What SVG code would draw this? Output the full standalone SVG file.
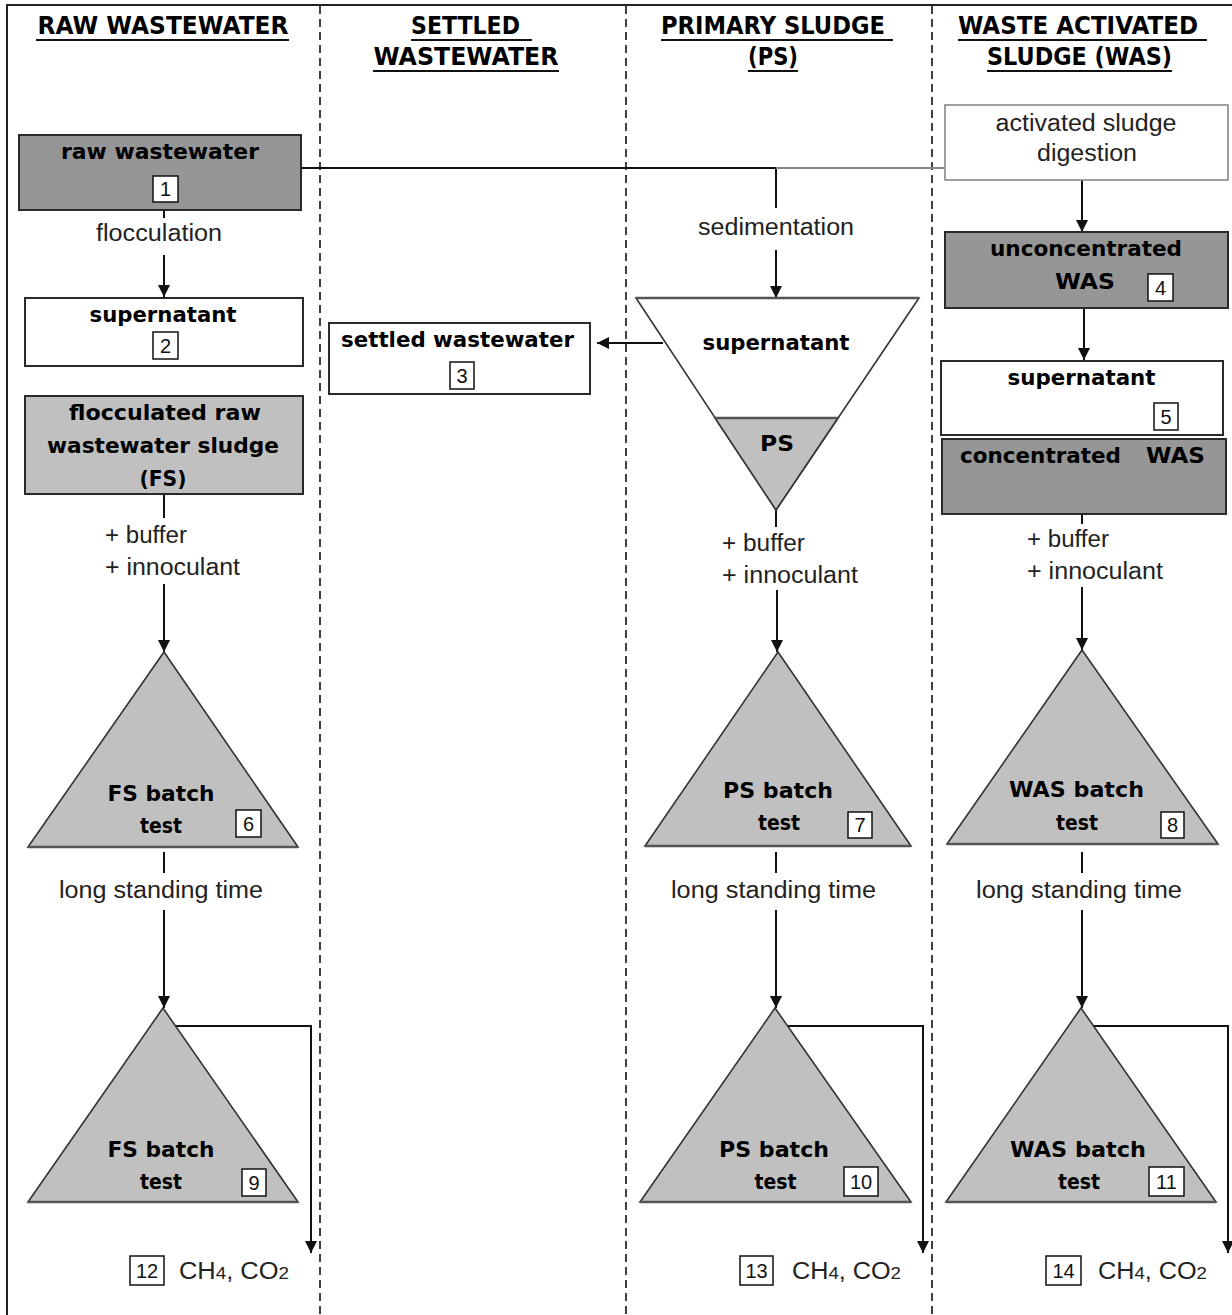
<svg xmlns="http://www.w3.org/2000/svg" width="1232" height="1315" viewBox="0 0 1232 1315">
<style>
.frame{stroke:#222;stroke-width:2;fill:none}
.dash{stroke:#111;stroke-width:1.6;stroke-dasharray:8 5;fill:none}
.ul{stroke:#111;stroke-width:2}
.box{stroke:#2a2a2a;stroke-width:2}
.dark{fill:#969696}
.light{fill:#c0c0c0}
.white{fill:#fff}
.tri{stroke:#333;stroke-width:1.6}
.base{stroke:#555;stroke-width:2.5}
.nb{fill:#fff;stroke:#111;stroke-width:1.5}
.h{font-family:"DejaVu Sans","Liberation Sans",sans-serif;font-weight:bold;font-size:24px;fill:#000}
.b{font-family:"DejaVu Sans","Liberation Sans",sans-serif;font-weight:bold;font-size:22px;fill:#000}
.r{font-family:"Liberation Sans",Arial,sans-serif;font-size:23px;fill:#222}
.n{font-family:"Liberation Sans",Arial,sans-serif;font-size:20px;fill:#111}
.conn{stroke:#111;stroke-width:2;fill:none}
.grey{stroke:#888;stroke-width:2;fill:none}
</style>
<defs>
<marker id="ah" viewBox="0 0 10 10" refX="10" refY="5" markerWidth="13" markerHeight="12" markerUnits="userSpaceOnUse" orient="auto">
<path d="M0,0 L10,5 L0,10 z" fill="#111"/>
</marker>
</defs>
<rect width="1232" height="1315" fill="#fff"/>

<g id="frame">
<path class="frame" d="M7,1315 L7,5 L1232,5"/>
<line class="dash" x1="320" y1="6" x2="320" y2="1315"/>
<line class="dash" x1="626" y1="6" x2="626" y2="1315"/>
<line class="dash" x1="932" y1="6" x2="932" y2="1315"/>
</g>

<g id="headers">
<text class="h" x="163" y="34" text-anchor="middle" textLength="251" lengthAdjust="spacingAndGlyphs">RAW WASTEWATER</text>
<line class="ul" x1="36" y1="40" x2="289" y2="40"/>
<text class="h" x="465.5" y="34" text-anchor="middle" textLength="109" lengthAdjust="spacingAndGlyphs">SETTLED</text>
<line class="ul" x1="411" y1="40" x2="532" y2="40"/>
<text class="h" x="466" y="65" text-anchor="middle" textLength="185" lengthAdjust="spacingAndGlyphs">WASTEWATER</text>
<line class="ul" x1="373" y1="71" x2="559" y2="71"/>
<text class="h" x="773" y="34" text-anchor="middle" textLength="224" lengthAdjust="spacingAndGlyphs">PRIMARY SLUDGE</text>
<line class="ul" x1="661" y1="40" x2="893" y2="40"/>
<text class="h" x="773" y="65" text-anchor="middle" textLength="50" lengthAdjust="spacingAndGlyphs">(PS)</text>
<line class="ul" x1="748" y1="71" x2="798" y2="71"/>
<text class="h" x="1078" y="34" text-anchor="middle" textLength="240" lengthAdjust="spacingAndGlyphs">WASTE ACTIVATED</text>
<line class="ul" x1="958" y1="40" x2="1207" y2="40"/>
<text class="h" x="1079.5" y="65" text-anchor="middle" textLength="185" lengthAdjust="spacingAndGlyphs">SLUDGE (WAS)</text>
<line class="ul" x1="987" y1="71" x2="1172" y2="71"/>
</g>

<g id="connectors">
<polyline class="conn" points="301,168 776,168 776,208"/>
<line class="grey" x1="776" y1="168" x2="944" y2="168"/>
<line class="conn" x1="164" y1="210" x2="164" y2="218"/>
<line class="conn" x1="164" y1="255" x2="164" y2="297" marker-end="url(#ah)"/>
<line class="conn" x1="776" y1="250" x2="776" y2="298" marker-end="url(#ah)"/>
<line class="conn" x1="663" y1="343" x2="597" y2="343" marker-end="url(#ah)"/>
<line class="conn" x1="1082" y1="180" x2="1082" y2="232" marker-end="url(#ah)"/>
<line class="conn" x1="1084" y1="308" x2="1084" y2="360" marker-end="url(#ah)"/>
<line class="conn" x1="164" y1="494" x2="164" y2="518"/>
<line class="conn" x1="776" y1="510" x2="776" y2="527"/>
<line class="conn" x1="1082" y1="514" x2="1082" y2="524"/>
<line class="conn" x1="164" y1="584" x2="164" y2="652" marker-end="url(#ah)"/>
<line class="conn" x1="777" y1="590" x2="777" y2="652" marker-end="url(#ah)"/>
<line class="conn" x1="1082" y1="587" x2="1082" y2="650" marker-end="url(#ah)"/>
<line class="conn" x1="164" y1="852" x2="164" y2="873"/>
<line class="conn" x1="776" y1="852" x2="776" y2="873"/>
<line class="conn" x1="1082" y1="852" x2="1082" y2="873"/>
<line class="conn" x1="164" y1="910" x2="164" y2="1008" marker-end="url(#ah)"/>
<line class="conn" x1="776" y1="910" x2="776" y2="1008" marker-end="url(#ah)"/>
<line class="conn" x1="1082" y1="910" x2="1082" y2="1008" marker-end="url(#ah)"/>
<polyline class="conn" points="170,1026 311,1026 311,1253" marker-end="url(#ah)"/>
<polyline class="conn" points="782,1026 923,1026 923,1253" marker-end="url(#ah)"/>
<polyline class="conn" points="1087,1026 1228,1026 1228,1253" marker-end="url(#ah)"/>
</g>

<g id="labels">
<text class="r" x="159" y="241" text-anchor="middle" textLength="126" lengthAdjust="spacingAndGlyphs">flocculation</text>
<text class="r" x="776" y="235" text-anchor="middle" textLength="156" lengthAdjust="spacingAndGlyphs">sedimentation</text>
<text class="r" x="105" y="543" textLength="82" lengthAdjust="spacingAndGlyphs">+ buffer</text>
<text class="r" x="105" y="575" textLength="135" lengthAdjust="spacingAndGlyphs">+ innoculant</text>
<text class="r" x="722" y="551" textLength="83" lengthAdjust="spacingAndGlyphs">+ buffer</text>
<text class="r" x="722" y="583" textLength="136" lengthAdjust="spacingAndGlyphs">+ innoculant</text>
<text class="r" x="1027" y="547" textLength="82" lengthAdjust="spacingAndGlyphs">+ buffer</text>
<text class="r" x="1027" y="579" textLength="136" lengthAdjust="spacingAndGlyphs">+ innoculant</text>
<text class="r" x="161" y="898" text-anchor="middle" textLength="204" lengthAdjust="spacingAndGlyphs">long standing time</text>
<text class="r" x="773.5" y="898" text-anchor="middle" textLength="205" lengthAdjust="spacingAndGlyphs">long standing time</text>
<text class="r" x="1079" y="898" text-anchor="middle" textLength="206" lengthAdjust="spacingAndGlyphs">long standing time</text>
</g>

<g id="n1">
<rect class="box dark" x="19" y="135" width="282" height="75"/>
<text class="b" x="160" y="159" text-anchor="middle" textLength="198" lengthAdjust="spacingAndGlyphs">raw wastewater</text>
<rect class="nb" x="153" y="176" width="25" height="26"/>
<text class="n" x="165.5" y="196" text-anchor="middle">1</text>
</g>

<g id="n2">
<rect class="box white" x="25" y="298" width="278" height="68"/>
<text class="b" x="163" y="322" text-anchor="middle" textLength="147" lengthAdjust="spacingAndGlyphs">supernatant</text>
<rect class="nb" x="153" y="332" width="25" height="27"/>
<text class="n" x="165.5" y="353" text-anchor="middle">2</text>
</g>

<g id="nFS">
<rect class="box light" x="25" y="396" width="278" height="98"/>
<text class="b" x="165" y="420" text-anchor="middle" textLength="192" lengthAdjust="spacingAndGlyphs">flocculated raw</text>
<text class="b" x="163" y="453" text-anchor="middle" textLength="232" lengthAdjust="spacingAndGlyphs">wastewater sludge</text>
<text class="b" x="163" y="486" text-anchor="middle" textLength="47" lengthAdjust="spacingAndGlyphs">(FS)</text>
</g>

<g id="n3">
<rect class="box white" x="329" y="323" width="261" height="71"/>
<text class="b" x="457.5" y="347" text-anchor="middle" textLength="233" lengthAdjust="spacingAndGlyphs">settled wastewater</text>
<rect class="nb" x="450" y="362" width="24" height="27"/>
<text class="n" x="462" y="383" text-anchor="middle">3</text>
</g>

<g id="nSed">
<polygon class="tri white" points="636,298 919,298 776,510"/>
<polygon class="tri light" points="715,418 838,418 776,510"/>
<line class="base" x1="636" y1="298" x2="919" y2="298"/>
<line class="base" x1="715" y1="418" x2="838" y2="418"/>
<text class="b" x="776" y="350" text-anchor="middle" textLength="147" lengthAdjust="spacingAndGlyphs">supernatant</text>
<text class="b" x="777" y="451" text-anchor="middle" textLength="34" lengthAdjust="spacingAndGlyphs">PS</text>
</g>

<g id="nAct">
<rect x="945" y="105" width="283" height="75" fill="#fff" stroke="#888" stroke-width="1.6"/>
<text class="r" x="1086" y="131" text-anchor="middle" textLength="181" lengthAdjust="spacingAndGlyphs">activated sludge</text>
<text class="r" x="1087" y="161" text-anchor="middle" textLength="100" lengthAdjust="spacingAndGlyphs">digestion</text>
</g>

<g id="n4">
<rect class="box dark" x="945" y="232" width="283" height="76"/>
<text class="b" x="1086" y="256" text-anchor="middle" textLength="192" lengthAdjust="spacingAndGlyphs">unconcentrated</text>
<text class="b" x="1085" y="289" text-anchor="middle" textLength="60" lengthAdjust="spacingAndGlyphs">WAS</text>
<rect class="nb" x="1148" y="274" width="25" height="27"/>
<text class="n" x="1160.5" y="295" text-anchor="middle">4</text>
</g>

<g id="n5">
<rect class="box white" x="941" y="361" width="282" height="74"/>
<text class="b" x="1081.5" y="385" text-anchor="middle" textLength="148" lengthAdjust="spacingAndGlyphs">supernatant</text>
<rect class="nb" x="1154" y="403" width="24" height="27"/>
<text class="n" x="1166" y="424" text-anchor="middle">5</text>
</g>

<g id="nCWAS">
<rect class="box dark" x="942" y="439" width="284" height="75"/>
<text class="b" x="1040.5" y="463" text-anchor="middle" textLength="161" lengthAdjust="spacingAndGlyphs">concentrated</text>
<text class="b" x="1175.5" y="463" text-anchor="middle" textLength="59" lengthAdjust="spacingAndGlyphs">WAS</text>
</g>

<g id="n6">
<polygon class="tri light" points="164,652 298,847 28,847"/>
<line class="base" x1="28" y1="847" x2="298" y2="847"/>
<text class="b" x="161" y="801" text-anchor="middle" textLength="107" lengthAdjust="spacingAndGlyphs">FS batch</text>
<text class="b" x="161" y="833" text-anchor="middle" textLength="42" lengthAdjust="spacingAndGlyphs">test</text>
<rect class="nb" x="236" y="810" width="25" height="27"/>
<text class="n" x="248.5" y="831" text-anchor="middle">6</text>
</g>

<g id="n7">
<polygon class="tri light" points="778,652 911,846 645,846"/>
<line class="base" x1="645" y1="846" x2="911" y2="846"/>
<text class="b" x="778" y="798" text-anchor="middle" textLength="110" lengthAdjust="spacingAndGlyphs">PS batch</text>
<text class="b" x="779" y="830" text-anchor="middle" textLength="42" lengthAdjust="spacingAndGlyphs">test</text>
<rect class="nb" x="848" y="812" width="24" height="26"/>
<text class="n" x="860" y="832" text-anchor="middle">7</text>
</g>

<g id="n8">
<polygon class="tri light" points="1082,650 1218,844 947,844"/>
<line class="base" x1="947" y1="844" x2="1218" y2="844"/>
<text class="b" x="1076.5" y="797" text-anchor="middle" textLength="135" lengthAdjust="spacingAndGlyphs">WAS batch</text>
<text class="b" x="1077" y="830" text-anchor="middle" textLength="42" lengthAdjust="spacingAndGlyphs">test</text>
<rect class="nb" x="1161" y="812" width="23" height="26"/>
<text class="n" x="1172.5" y="832" text-anchor="middle">8</text>
</g>

<g id="n9">
<polygon class="tri light" points="163,1008 298,1202 28,1202"/>
<line class="base" x1="28" y1="1202" x2="298" y2="1202"/>
<text class="b" x="161" y="1157" text-anchor="middle" textLength="107" lengthAdjust="spacingAndGlyphs">FS batch</text>
<text class="b" x="161" y="1189" text-anchor="middle" textLength="42" lengthAdjust="spacingAndGlyphs">test</text>
<rect class="nb" x="242" y="1169" width="24" height="27"/>
<text class="n" x="254" y="1190" text-anchor="middle">9</text>
</g>

<g id="n10">
<polygon class="tri light" points="775,1008 911,1202 640,1202"/>
<line class="base" x1="640" y1="1202" x2="911" y2="1202"/>
<text class="b" x="774" y="1157" text-anchor="middle" textLength="110" lengthAdjust="spacingAndGlyphs">PS batch</text>
<text class="b" x="775.5" y="1189" text-anchor="middle" textLength="42" lengthAdjust="spacingAndGlyphs">test</text>
<rect class="nb" x="844" y="1167" width="34" height="29"/>
<text class="n" x="861" y="1189" text-anchor="middle">10</text>
</g>

<g id="n11">
<polygon class="tri light" points="1081,1008 1216,1202 946,1202"/>
<line class="base" x1="946" y1="1202" x2="1216" y2="1202"/>
<text class="b" x="1078" y="1157" text-anchor="middle" textLength="136" lengthAdjust="spacingAndGlyphs">WAS batch</text>
<text class="b" x="1079" y="1189" text-anchor="middle" textLength="42" lengthAdjust="spacingAndGlyphs">test</text>
<rect class="nb" x="1149" y="1167" width="35" height="29"/>
<text class="n" x="1166.5" y="1189" text-anchor="middle">11</text>
</g>

<g id="n12">
<rect class="nb" x="130" y="1256" width="34" height="29"/>
<text class="n" x="147" y="1278" text-anchor="middle">12</text>
<text class="r" x="179" y="1279" textLength="110" lengthAdjust="spacingAndGlyphs">CH<tspan font-size="17">4</tspan>, CO<tspan font-size="17">2</tspan></text>
</g>

<g id="n13">
<rect class="nb" x="740" y="1256" width="33" height="29"/>
<text class="n" x="756.5" y="1278" text-anchor="middle">13</text>
<text class="r" x="792" y="1279" textLength="109" lengthAdjust="spacingAndGlyphs">CH<tspan font-size="17">4</tspan>, CO<tspan font-size="17">2</tspan></text>
</g>

<g id="n14">
<rect class="nb" x="1046" y="1256" width="35" height="29"/>
<text class="n" x="1063.5" y="1278" text-anchor="middle">14</text>
<text class="r" x="1098" y="1279" textLength="109" lengthAdjust="spacingAndGlyphs">CH<tspan font-size="17">4</tspan>, CO<tspan font-size="17">2</tspan></text>
</g>
</svg>
